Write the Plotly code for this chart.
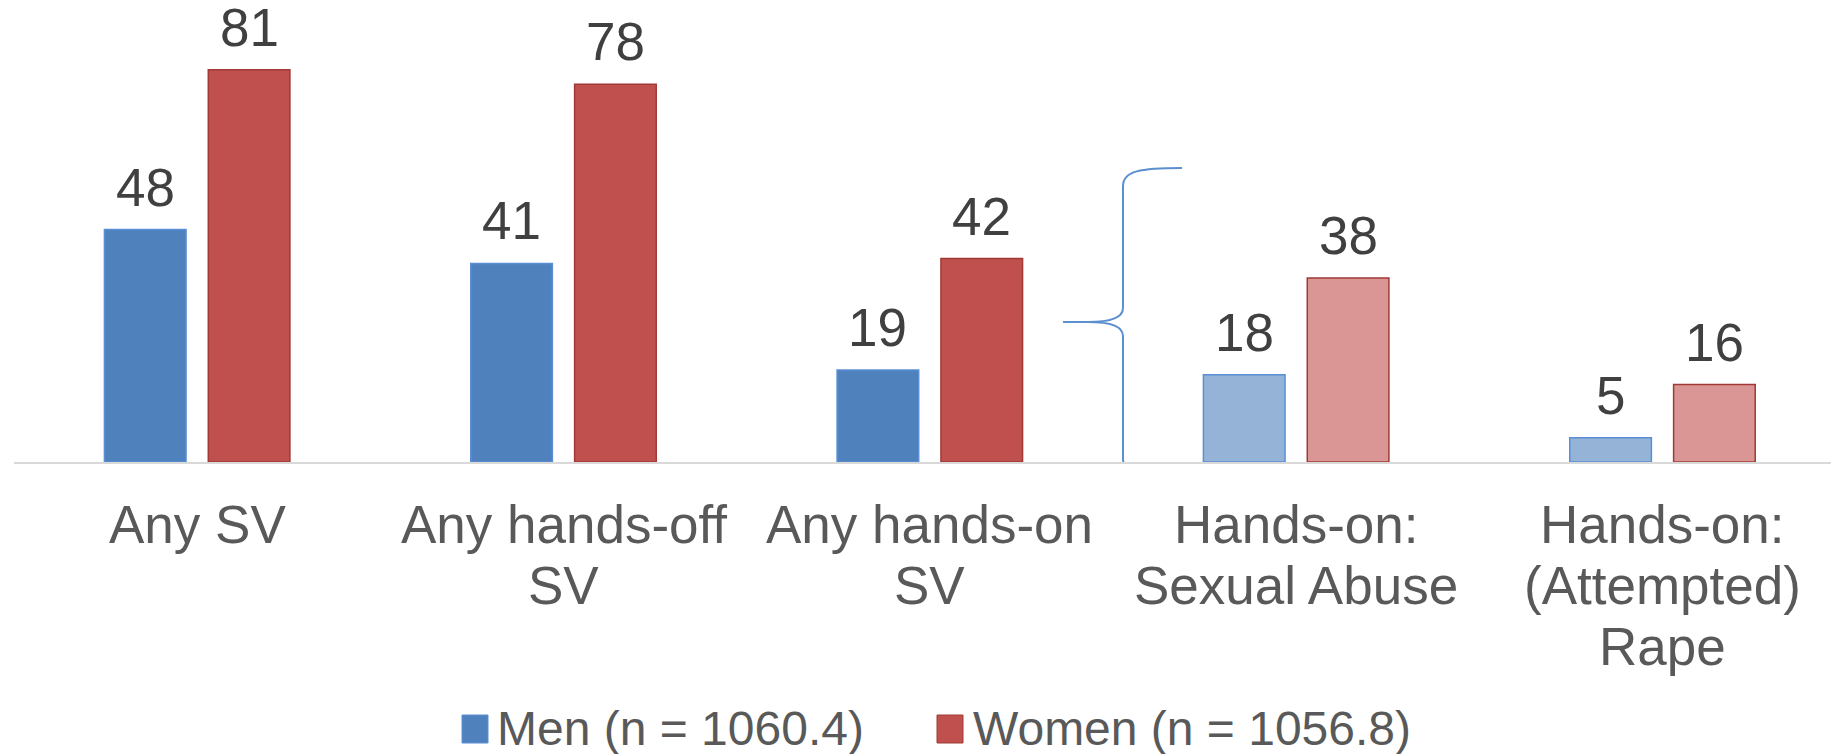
import plotly.graph_objects as go

# ---- data ----
categories = ["Any SV", "Any hands-off<br>SV", "Any hands-on<br>SV",
              "Hands-on:<br>Sexual Abuse", "Hands-on:<br>(Attempted)<br>Rape"]
men = [48, 41, 19, 18, 5]
women = [81, 78, 42, 38, 16]
men_label = "Men (n = 1060.4)"
women_label = "Women (n = 1056.8)"

# ---- styles ----
W, H = 1831, 754
ML, MR, MT, MB = 14, 0, 20, 292
PX_PER_UNIT = 4.843
plot_w = W - ML - MR
plot_h = H - MT - MB
y_max = plot_h / PX_PER_UNIT
x_range = [-0.5, 4.46]
unit_px = plot_w / (x_range[1] - x_range[0])

FONT = "Liberation Sans, Arial, Helvetica, sans-serif"
BLUE, BLUE_LT = "#4F81BD", "#95B3D7"
BLUE_EDGE = "#5A8FD6"
RED, RED_LT = "#C0504D", "#D99694"
RED_EDGE = "#A13A37"
BARGAP, GROUPGAP = 0.433, 0.214

men_fill = [BLUE, BLUE, BLUE, BLUE_LT, BLUE_LT]
women_fill = [RED, RED, RED, RED_LT, RED_LT]

fig = go.Figure()
fig.add_trace(go.Bar(x=categories, y=men, name=men_label,
                     marker=dict(color=men_fill, line=dict(color=BLUE_EDGE, width=1.5)),
                     showlegend=False, hoverinfo="y"))
fig.add_trace(go.Bar(x=categories, y=women, name=women_label,
                     marker=dict(color=women_fill, line=dict(color=RED_EDGE, width=1.5)),
                     showlegend=False, hoverinfo="y"))

annotations = []
off = (1 - BARGAP) / 4
for i, (m, w) in enumerate(zip(men, women)):
    for xv, v in ((i - off, m), (i + off, w)):
        annotations.append(dict(x=xv, y=v, xref="x", yref="y", text=str(v),
                                showarrow=False, yanchor="bottom", yshift=11,
                                font=dict(family=FONT, size=53, color="#404040")))

# category labels (one annotation per line for tight line spacing)
LABEL_SIZE = 53
first_center = 524
line_step = 61
for i, cat in enumerate(categories):
    for j, line in enumerate(cat.split("<br>")):
        annotations.append(dict(x=i, y=0, xref="x", yref="paper", text=line,
                                showarrow=False, yanchor="middle", xanchor="center",
                                yshift=-(first_center + j * line_step - (MT + plot_h)),
                                font=dict(family=FONT, size=LABEL_SIZE, color="#595959")))

def px2paper_x(px):
    return (px - ML) / plot_w

def py2paper_y(py):
    return (MT + plot_h - py) / plot_h

# manual legend
shapes = []
leg_items = [(men_label, BLUE, BLUE_EDGE, 462, 495), (women_label, RED, RED_EDGE, 937, 971)]
for label, col, edge, sx, tx in leg_items:
    shapes.append(dict(type="rect", xref="paper", yref="paper",
                       x0=px2paper_x(sx), x1=px2paper_x(sx + 26),
                       y0=py2paper_y(743), y1=py2paper_y(715),
                       fillcolor=col, line=dict(color=edge, width=1)))
    annotations.append(dict(x=px2paper_x(tx), y=0, xref="paper", yref="paper", text=label,
                            showarrow=False, xanchor="left", yanchor="middle",
                            yshift=-(728 - (MT + plot_h)),
                            font=dict(family=FONT, size=48, color="#595959")))

# brace (pixel geometry converted to data coordinates)
def dx(px):
    return x_range[0] + (px - ML) / unit_px

def dy(py):
    return (MT + plot_h - py) / PX_PER_UNIT

brace_px = [
    ("M", [(1182, 168)]),
    ("C", [(1140, 168), (1123, 171), (1123, 186)]),
    ("L", [(1123, 308)]),
    ("C", [(1123, 318), (1108, 322), (1088, 322)]),
    ("L", [(1063, 322)]),
    ("M", [(1088, 322)]),
    ("C", [(1108, 322), (1123, 326), (1123, 336)]),
    ("L", [(1123, 459)]),
    ("C", [(1123, 473), (1140, 475), (1182, 475)]),
]
path = " ".join(cmd + " " + " ".join(f"{dx(a):.4f},{dy(b):.4f}" for a, b in pts)
                for cmd, pts in brace_px)
shapes.append(dict(type="path", xref="x", yref="y", path=path,
                   line=dict(color="#5B8FD0", width=2)))

fig.update_layout(
    width=W, height=H,
    margin=dict(l=ML, r=MR, t=MT, b=MB),
    paper_bgcolor="white", plot_bgcolor="white",
    barmode="group", bargap=BARGAP, bargroupgap=GROUPGAP,
    showlegend=False,
    xaxis=dict(type="category", range=x_range, showticklabels=False,
               showline=True, linecolor="#D9D9D9", linewidth=2,
               showgrid=False, zeroline=False, ticks="", fixedrange=True),
    yaxis=dict(range=[0, y_max], visible=False, showgrid=False, zeroline=False,
               fixedrange=True),
    annotations=annotations,
    shapes=shapes,
    font=dict(family=FONT),
)

fig.write_html(
    "out.html",
    config={"displayModeBar": False},
    post_script="document.body.style.margin='0';document.body.style.overflow='hidden';",
)
